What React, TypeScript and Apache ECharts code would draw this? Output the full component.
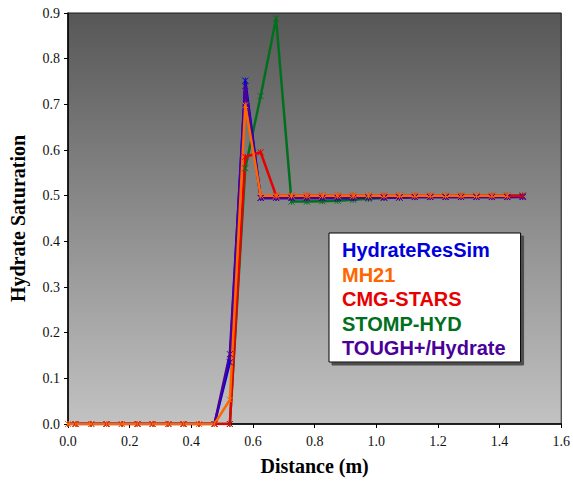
import React, { useEffect, useRef } from "react";
import * as echarts from "echarts";

const distance = [
  0, 0.025, 0.075, 0.125, 0.175, 0.225, 0.275, 0.325, 0.375, 0.425, 0.475,
  0.525, 0.575, 0.625, 0.675, 0.725, 0.775, 0.825, 0.875, 0.925, 0.975,
  1.025, 1.075, 1.125, 1.175, 1.225, 1.275, 1.325, 1.375, 1.425, 1.475,
];

const hydrateResSim = [
  0, 0, 0, 0, 0, 0, 0, 0, 0, 0, 0,
  0.135, 0.752, 0.495, 0.495, 0.495, 0.495, 0.495, 0.495, 0.495, 0.496,
  0.496, 0.496, 0.497, 0.497, 0.497, 0.497, 0.497, 0.497, 0.497, 0.497,
];
const mh21 = [
  0, 0, 0, 0, 0, 0, 0, 0, 0, 0, 0,
  0.053, 0.698, 0.5, 0.5, 0.5, 0.5, 0.5, 0.5, 0.5, 0.5,
  0.5, 0.5, 0.5, 0.5, 0.5, 0.5, 0.5, 0.5, 0.5,
];
const cmgStars = [
  0, 0, 0, 0, 0, 0, 0, 0, 0, 0, 0,
  0, 0.585, 0.595, 0.5, 0.5, 0.5, 0.5, 0.5, 0.5, 0.5,
  0.5, 0.5, 0.5, 0.5, 0.5, 0.5, 0.5, 0.5, 0.5, 0.5,
];
const stompHyd = [
  0, 0, 0, 0, 0, 0, 0, 0, 0, 0, 0,
  0, 0.56, 0.718, 0.888, 0.487, 0.487, 0.488, 0.489, 0.491, 0.493,
  0.495, 0.496, 0.497, 0.498, 0.498, 0.499, 0.499, 0.499, 0.5, 0.5,
];
const toughHydrate = [
  0, 0, 0, 0, 0, 0, 0, 0, 0, 0, 0,
  0.153, 0.74, 0.495, 0.495, 0.495, 0.495, 0.495, 0.495, 0.495, 0.496,
  0.496, 0.496, 0.497, 0.497, 0.497, 0.497, 0.497, 0.497, 0.497, 0.498,
];

const xTicks = { min: 0, max: 1.6, interval: 0.2 };
const yTicks = { min: 0, max: 0.9, interval: 0.1 };

const seriesDefs = [
  { name: "STOMP-HYD", values: stompHyd, color: "#00701e" },
  { name: "HydrateResSim", values: hydrateResSim, color: "#0000dc" },
  { name: "TOUGH+/Hydrate", values: toughHydrate, color: "#4a0099" },
  { name: "CMG-STARS", values: cmgStars, color: "#e80000" },
  { name: "MH21", values: mh21, color: "#ff6600" },
];
const legendOrder = ["HydrateResSim", "MH21", "CMG-STARS", "STOMP-HYD", "TOUGH+/Hydrate"];

const crossSymbol = "path://M0,0L10,10M10,0L0,10M5,0L5,10";

const SERIF = "Liberation Serif";
const SANS = "Liberation Sans";

export default function App() {
  const ref = useRef<HTMLDivElement>(null);
  useEffect(() => {
    if (!ref.current) return;
    const chart = echarts.init(ref.current, undefined, { renderer: "svg" });
    const colorOf: Record<string, string> = {};
    seriesDefs.forEach((s) => (colorOf[s.name] = s.color));
    chart.setOption({
      animation: false,
      backgroundColor: "#ffffff",
      textStyle: { fontFamily: SERIF },
      grid: {
        left: 67,
        right: 10,
        top: 13,
        bottom: 54,
        show: true,
        borderColor: "#1a1a1a",
        borderWidth: 1,
        backgroundColor: new echarts.graphic.LinearGradient(0, 0, 0, 1, [
          { offset: 0, color: "#575757" },
          { offset: 1, color: "#c2c2c2" },
        ]),
      },
      legend: {
        orient: "vertical",
        left: 329,
        top: 233,
        padding: [7, 15, 4, 7],
        itemWidth: 0,
        itemHeight: 0,
        itemGap: 4.5,
        icon: "rect",
        backgroundColor: "#ffffff",
        borderColor: "#000000",
        borderWidth: 1,
        shadowColor: "#4d4d4d",
        shadowBlur: 0,
        shadowOffsetX: 3,
        shadowOffsetY: 3,
        data: legendOrder.map((n) => ({
          name: n,
          textStyle: {
            color: colorOf[n],
            fontFamily: SANS,
            fontWeight: "bold",
            fontSize: 20,
            padding: [0, 0, 0, 0],
          },
        })),
      },
      xAxis: {
        type: "value",
        min: xTicks.min,
        max: xTicks.max,
        interval: xTicks.interval,
        name: "Distance (m)",
        nameLocation: "middle",
        nameGap: 32,
        nameTextStyle: {
          fontFamily: SERIF,
          fontWeight: "bold",
          fontSize: 20,
          color: "#000",
        },
        axisLine: { lineStyle: { color: "#000", width: 1.5 } },
        axisTick: { show: true, length: 4, lineStyle: { color: "#000" } },
        axisLabel: {
          formatter: (v: number) => v.toFixed(1),
          fontFamily: SERIF,
          fontSize: 14,
          color: "#111",
          margin: 10,
        },
        splitLine: { show: false },
      },
      yAxis: {
        type: "value",
        min: yTicks.min,
        max: yTicks.max,
        interval: yTicks.interval,
        name: "Hydrate Saturation",
        nameLocation: "middle",
        nameGap: 40,
        nameTextStyle: {
          fontFamily: SERIF,
          fontWeight: "bold",
          fontSize: 20,
          color: "#000",
        },
        axisLine: { show: true, lineStyle: { color: "#000", width: 1.5 } },
        axisTick: { show: true, length: 4, lineStyle: { color: "#000" } },
        axisLabel: {
          formatter: (v: number) => v.toFixed(1),
          fontFamily: SERIF,
          fontSize: 14,
          color: "#111",
          margin: 8,
        },
        splitLine: { show: false },
      },
      series: seriesDefs.map((s) => ({
        name: s.name,
        type: "line",
        data: s.values.map((v, i) => [distance[i], v]),
        color: s.color,
        symbol: crossSymbol,
        symbolSize: 6,
        showAllSymbol: true,
        lineStyle: { color: s.color, width: 2.5 },
        itemStyle: { color: s.color, borderColor: s.color, borderWidth: 1 },
        emphasis: { disabled: true },
      })),
    });
    return () => chart.dispose();
  }, []);
  return (
    <div
      ref={ref}
      style={{ position: "fixed", left: 0, top: 0, width: 573, height: 481 }}
    />
  );
}
